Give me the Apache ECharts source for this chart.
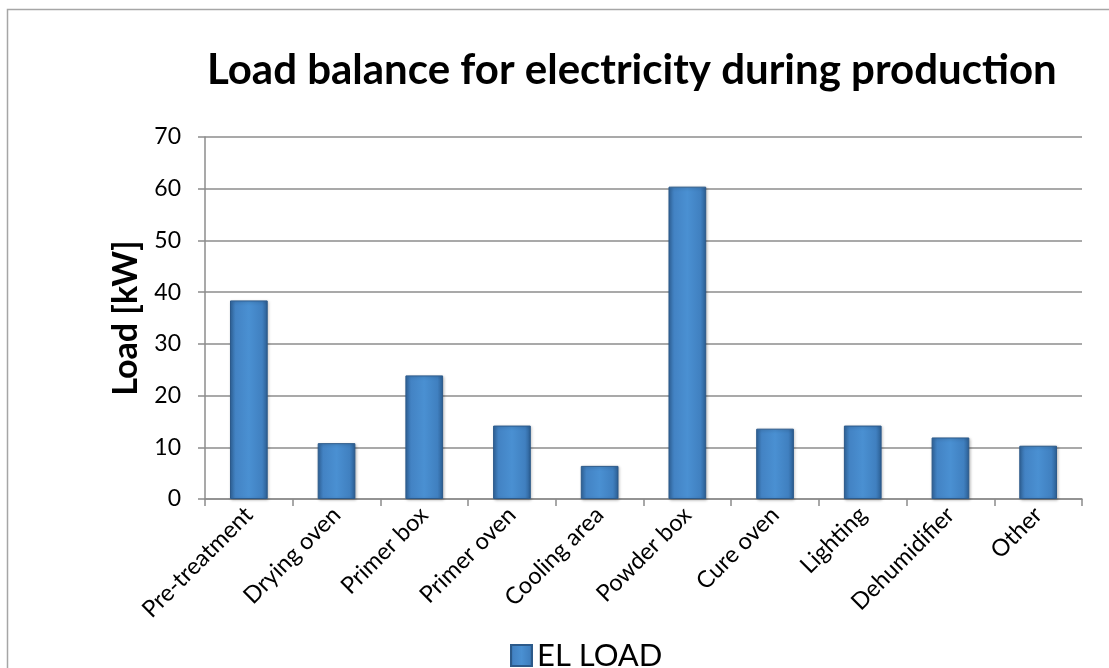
<!DOCTYPE html>
<html><head><meta charset="utf-8">
<script src="https://cdn.jsdelivr.net/npm/echarts@6/dist/echarts.min.js"></script>
<style>html,body{margin:0;padding:0;background:#fff}#c{width:1109px;height:668px}</style>
</head><body><div id="c"></div>
<script>
const categories = ['Pre-treatment','Drying oven','Primer box','Primer oven','Cooling area','Powder box','Cure oven','Lighting','Dehumidifier','Other'];
const elLoad = [38.4, 10.8, 23.9, 14.2, 6.4, 60.4, 13.6, 14.2, 11.9, 10.3];
const yTicks = [0,10,20,30,40,50,60,70];

const FONT = 'Lato';
const chart = echarts.init(document.getElementById('c'), null, {renderer:'canvas'});
const barColor = {
  type:'linear', x:0, y:0, x2:1, y2:0,
  colorStops:[
    {offset:0, color:'#3268a0'},
    {offset:0.15, color:'#4383c4'},
    {offset:0.5, color:'#4a90d2'},
    {offset:0.85, color:'#4080c0'},
    {offset:1, color:'#2c5f94'}
  ]
};
chart.setOption({
  animation:false,
  graphic:[{type:'rect', shape:{x:7.5,y:9.5,width:1120,height:680}, style:{fill:'none', stroke:'#a6a6a6', lineWidth:1.5}}],
  title:{
    text:'Load balance for electricity during production',
    left:202, top:44,
    textStyle:{fontFamily:FONT, fontWeight:'bold', fontSize:42, color:'#000'}
  },
  legend:{
    data:['EL LOAD'], left:510, top:640, padding:0,
    icon:'rect', itemWidth:21, itemHeight:21, itemGap:10,
    textStyle:{fontFamily:FONT, fontSize:31, color:'#000', lineHeight:31}
  },
  grid:{left:205, right:27, top:137, bottom:169, containLabel:false},
  xAxis:{
    type:'category', data:categories,
    axisLine:{lineStyle:{color:'#8c8c8c', width:1.5}},
    axisTick:{show:true, alignWithLabel:false, length:7, lineStyle:{color:'#8c8c8c', width:1.5}},
    axisLabel:{rotate:45, interval:0, fontFamily:FONT, fontSize:23.5, color:'#000', margin:12}
  },
  yAxis:{
    type:'value', min:0, max:70, interval:10,
    name:'Load [kW]', nameLocation:'middle', nameGap:61,
    nameTextStyle:{fontFamily:FONT, fontWeight:'bold', fontSize:34, color:'#000'},
    axisLine:{show:true, lineStyle:{color:'#8c8c8c', width:1.5}},
    axisTick:{show:true, length:7, lineStyle:{color:'#8c8c8c', width:1.5}},
    splitLine:{lineStyle:{color:'#8c8c8c', width:1.5}},
    axisLabel:{fontFamily:FONT, fontSize:23, color:'#000', margin:24,
      formatter:v=> yTicks.includes(v) ? String(v) : ''}
  },
  series:[{
    name:'EL LOAD', type:'bar', data:elLoad, barWidth:'43%',
    itemStyle:{color:barColor, borderColor:'#2c5a8a', borderWidth:1,
      shadowColor:'rgba(0,0,0,0.25)', shadowBlur:3, shadowOffsetX:1, shadowOffsetY:1}
  }]
});
</script></body></html>
